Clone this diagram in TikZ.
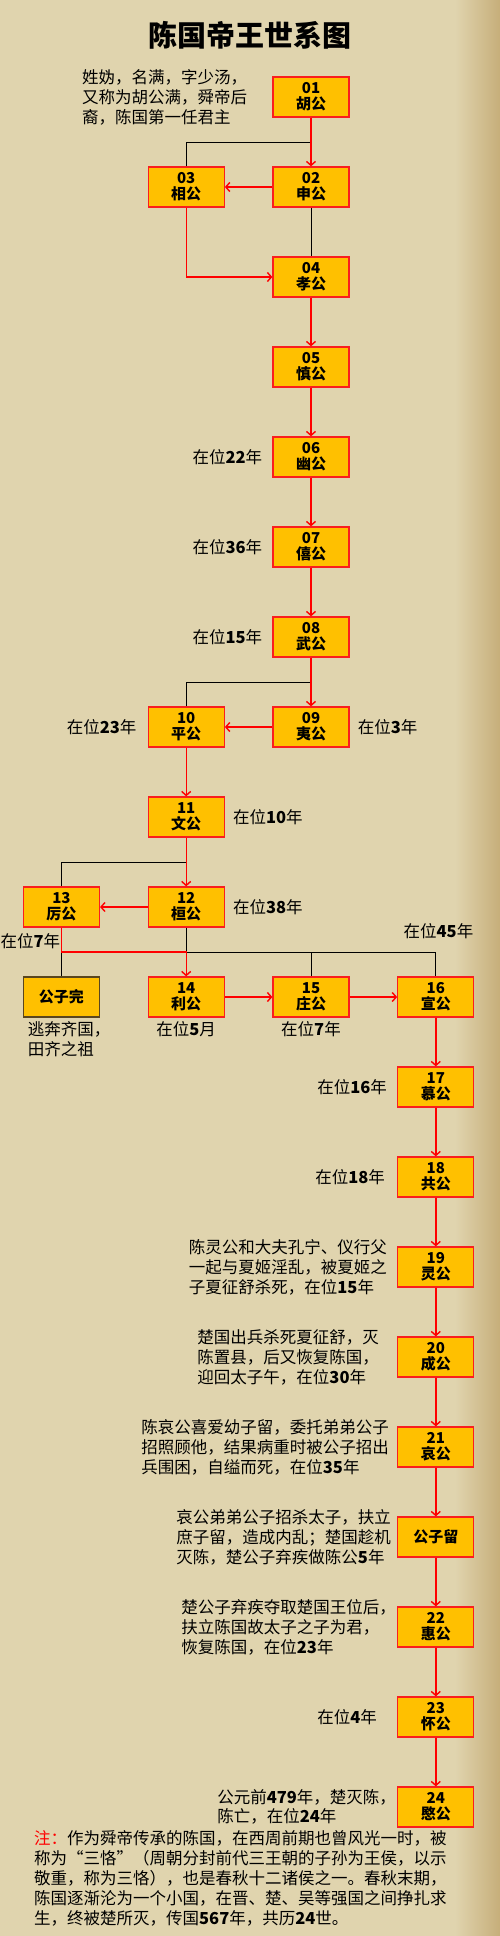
\documentclass[tikz,border=0pt]{standalone}
\usepackage{fontspec}
\setmainfont{Noto Sans CJK SC}
\usetikzlibrary{positioning,arrows.meta,calc}
\definecolor{woodbg}{RGB}{224,212,174}
\definecolor{wooddark}{RGB}{198,174,122}
\definecolor{gongfill}{RGB}{255,192,0}
\definecolor{gongline}{RGB}{250,30,30}
\definecolor{wanline}{RGB}{90,70,30}
\tikzset{
  gong/.style={draw=gongline,line width=1.3pt,fill=gongfill,minimum width=76pt,
    minimum height=40pt,inner sep=0pt,align=center,
    font=\fontsize{15}{16}\selectfont\bfseries},
  zisun/.style={gong,draw=wanline},
  zaiwei/.style={inner sep=1pt,align=left,font=\fontsize{16.5}{20}\selectfont},
  chuan/.style={draw=red,line width=1.4pt,-{Straight Barb[length=4pt,width=9pt]}},
  xue/.style={draw=black,line width=0.8pt},
}

\begin{document}
\begin{tikzpicture}[x=1pt,y=1pt,node distance=48.7pt and 47.5pt]
  % wood background
  \fill[woodbg] (0,0) rectangle (500,-1936);
  \shade[left color=woodbg,right color=wooddark] (455,0) rectangle (500,-1936);
  \useasboundingbox (0,0) rectangle (500,-1936);

  \node[font=\fontsize{29}{32}\selectfont\bfseries] (biaoti) at (250,-35) {陈国帝王世系图};

  % the rulers
  \node[gong]                  (g01) at (311,-97) {01\\胡公};
  \node[gong,below=of g01]     (g02) {02\\申公};
  \node[gong,left=of g02]      (g03) {03\\相公};
  \node[gong,below=of g02]     (g04) {04\\孝公};
  \node[gong,below=of g04]     (g05) {05\\慎公};
  \node[gong,below=of g05]     (g06) {06\\幽公};
  \node[gong,below=of g06]     (g07) {07\\僖公};
  \node[gong,below=of g07]     (g08) {08\\武公};
  \node[gong,below=of g08]     (g09) {09\\夷公};
  \node[gong,left=of g09]      (g10) {10\\平公};
  \node[gong,below=of g10]     (g11) {11\\文公};
  \node[gong,below=of g11]     (g12) {12\\桓公};
  \node[gong,left=of g12]      (g13) {13\\厉公};
  \node[gong,below=of g12]     (g14) {14\\利公};
  \node[zisun,left=of g14]     (wan) {公子完};
  \node[gong,right=of g14]     (g15) {15\\庄公};
  \node[gong,right=of g15]     (g16) {16\\宣公};
  \node[gong,below=of g16]     (g17) {17\\慕公};
  \node[gong,below=of g17]     (g18) {18\\共公};
  \node[gong,below=of g18]     (g19) {19\\灵公};
  \node[gong,below=of g19]     (g20) {20\\成公};
  \node[gong,below=of g20]     (g21) {21\\哀公};
  \node[gong,below=of g21]     (liu) {公子留};
  \node[gong,below=of liu]     (g22) {22\\惠公};
  \node[gong,below=of g22]     (g23) {23\\怀公};
  \node[gong,below=of g23]     (g24) {24\\愍公};

  % kinship lines
  \coordinate (f1) at ($(g01.south)!.5!(g02.north)$);
  \coordinate (f2) at ($(g08.south)!.5!(g09.north)$);
  \coordinate (f3) at ($(g11.south)!.5!(g12.north)$);
  \coordinate (f4) at ($(g12.south)!.5!(g14.north)$);
  \draw[xue] (g03.north) |- (f1);
  \draw[xue] (g02) -- (g04);
  \draw[xue] (g10.north) |- (f2);
  \draw[xue] (g13.north) |- (f3);
  \draw[xue] (g12.south) -- (f4) -| (g16.north);
  \draw[xue] (g15.north) -- (g15.north |- f4);
  \draw[xue] (wan.north) -- (wan.north |- f4);

  % succession
  \path[chuan]
    (g01) edge (g02)
    (g02) edge (g03)
    (g04) edge (g05)
    (g05) edge (g06)
    (g06) edge (g07)
    (g07) edge (g08)
    (g08) edge (g09)
    (g09) edge (g10)
    (g10) edge (g11)
    (g11) edge (g12)
    (g12) edge (g13)
    (g14) edge (g15)
    (g15) edge (g16)
    (g16) edge (g17)
    (g17) edge (g18)
    (g18) edge (g19)
    (g19) edge (g20)
    (g20) edge (g21)
    (g21) edge (liu)
    (liu) edge (g22)
    (g22) edge (g23)
    (g23) edge (g24);
  \draw[chuan] (g03.south) |- (g04.west);
  \draw[chuan] (g13.south) |- (f4) -- (g14.north);

  % notes
  \node[zaiwei,left=24pt of g01] (t01) {姓妫，名满，字少汤，\\又称为胡公满，舜帝后\\裔，陈国第一任君主};
  \node[zaiwei,left=9pt of g06]  (n06) {在位\textbf{22}年};
  \node[zaiwei,left=9pt of g07]  (n07) {在位\textbf{36}年};
  \node[zaiwei,left=9pt of g08]  (n08) {在位\textbf{15}年};
  \node[zaiwei,right=7pt of g09] (n09) {在位\textbf{3}年};
  \node[zaiwei,left=10pt of g10] (n10) {在位\textbf{23}年};
  \node[zaiwei,right=7pt of g11] (n11) {在位\textbf{10}年};
  \node[zaiwei,right=7pt of g12] (n12) {在位\textbf{38}年};
  \node[zaiwei,anchor=east] (n13) at ($(g13.south)+(0,-14)$) {在位\textbf{7}年};
  \node[zaiwei,anchor=south east] (n16) at ($(g16.north east)+(0,36)$) {在位\textbf{45}年};
  \node[zaiwei,anchor=north west] (nwan) at ($(wan.south west)+(4,-3)$) {逃奔齐国，\\田齐之祖};
  \node[zaiwei,below=3pt of g14] (n14) {在位\textbf{5}月};
  \node[zaiwei,below=3pt of g15] (n15) {在位\textbf{7}年};
  \node[zaiwei,left=9pt of g17]  (n17) {在位\textbf{16}年};
  \node[zaiwei,left=11pt of g18] (n18) {在位\textbf{18}年};
  \node[zaiwei,left=9pt of g19]  (n19) {陈灵公和大夫孔宁、仪行父\\一起与夏姬淫乱，被夏姬之\\子夏征舒杀死，在位\textbf{15}年};
  \node[zaiwei,left=17pt of g20] (n20) {楚国出兵杀死夏征舒，灭\\陈置县，后又恢复陈国，\\迎回太子午，在位\textbf{30}年};
  \node[zaiwei,left=7pt of g21]  (n21) {陈哀公喜爱幼子留，委托弟弟公子\\招照顾他，结果病重时被公子招出\\兵围困，自缢而死，在位\textbf{35}年};
  \node[zaiwei,left=5pt of liu]  (nliu) {哀公弟弟公子招杀太子，扶立\\庶子留，造成内乱；楚国趁机\\灭陈，楚公子弃疾做陈公\textbf{5}年};
  \node[zaiwei,left=0pt of g22]  (n22) {楚公子弃疾夺取楚国王位后，\\扶立陈国故太子之子为君，\\恢复陈国，在位\textbf{23}年};
  \node[zaiwei,left=19pt of g23] (n23) {在位\textbf{4}年};
  \node[zaiwei,left=0pt of g24,font=\fontsize{16.5}{18.5}\selectfont] (n24) {公元前\textbf{479}年，楚灭陈，\\陈亡，在位\textbf{24}年};

  \node[zaiwei,anchor=north west] (zhu) at (33,-1829)
    {\textcolor{red}{注：}作为舜帝传承的陈国，在西周前期也曾风光一时，被\\
     称为“三恪”（周朝分封前代三王朝的子孙为王侯，以示\\
     敬重，称为三恪），也是春秋十二诸侯之一。春秋末期，\\
     陈国逐渐沦为一个小国，在晋、楚、吴等强国之间挣扎求\\
     生，终被楚所灭，传国\textbf{567}年，共历\textbf{24}世。};
\end{tikzpicture}
\end{document}
